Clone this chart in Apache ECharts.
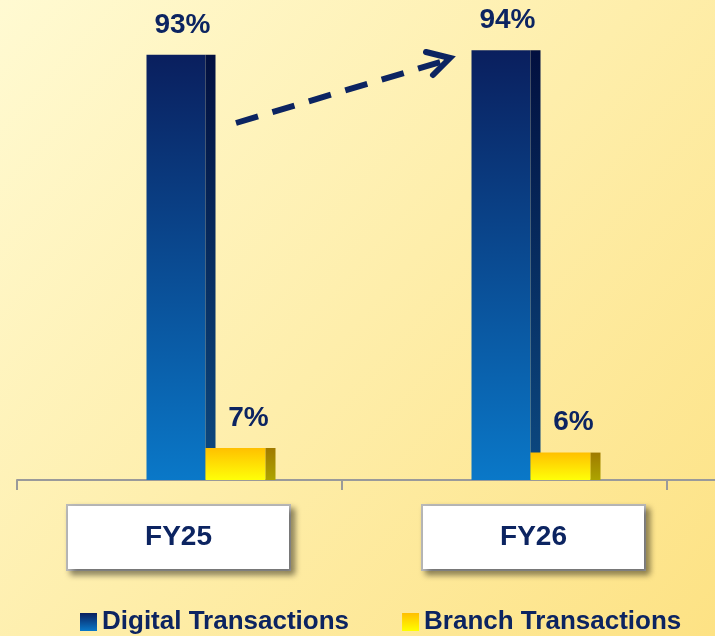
<!DOCTYPE html>
<html>
<head>
<meta charset="utf-8">
<script src="https://cdn.jsdelivr.net/npm/echarts@6/dist/echarts.min.js"></script>
<style>
  html, body { margin: 0; padding: 0; }
  #mainContent { width: 715px; height: 636px; }
</style>
</head>
<body>
<div id="mainContent"></div>
<script>
// data
var categories = ['FY25', 'FY26', ''];
var boxLabels = ['FY25', 'FY26'];
var digital = [93, 94];
var branch = [7, 6];
var seriesNames = ['Digital Transactions', 'Branch Transactions'];

var navy = '#0c2461';

var myChart = echarts.init(document.getElementById('mainContent'));

function grad(top, bottom) {
    return new echarts.graphic.LinearGradient(0, 0, 0, 1, [
        { offset: 0, color: top },
        { offset: 1, color: bottom }
    ]);
}

// front face offset / width, side face width, label offset (relative to category centre)
function barRenderer(frontX, frontW, sideW, labelX, frontCol, sideCol) {
    return function (params, api) {
        var top = api.coord([api.value(0), api.value(1)]);
        var base = api.coord([api.value(0), 0]);
        var cx = top[0];
        var h = base[1] - top[1];
        return {
            type: 'group',
            children: [{
                type: 'rect',
                shape: { x: cx + frontX, y: top[1], width: frontW, height: h },
                style: { fill: grad(frontCol[0], frontCol[1]) }
            }, {
                type: 'rect',
                shape: { x: cx + frontX + frontW, y: top[1], width: sideW, height: h },
                style: { fill: grad(sideCol[0], sideCol[1]) }
            }, {
                type: 'text',
                style: {
                    text: api.value(1) + '%',
                    x: cx + labelX,
                    y: top[1] - 30,
                    font: 'bold 28px "Liberation Sans", Arial, sans-serif',
                    fill: navy,
                    align: 'center',
                    verticalAlign: 'middle'
                }
            }]
        };
    };
}

var option = {
    backgroundColor: new echarts.graphic.LinearGradient(0, 0, 1, 1, [
        { offset: 0, color: '#fffad2' },
        { offset: 1, color: '#fde284' }
    ]),
    animation: false,
    grid: [
        { left: 17, top: 0, width: 975, height: 480, outerBoundsMode: 'none', containLabel: false },
        { left: 1, top: 0, width: 710, height: 480, outerBoundsMode: 'none', containLabel: false }
    ],
    legend: {
        left: 75,
        top: 604,
        width: 640,
        icon: 'rect',
        itemWidth: 17,
        itemHeight: 18,
        itemGap: 53,
        textStyle: {
            color: navy,
            fontSize: 26,
            fontWeight: 'bold',
            fontFamily: '"Liberation Sans", Arial, sans-serif'
        },
        data: seriesNames
    },
    xAxis: [{
        type: 'category',
        gridIndex: 0,
        data: categories,
        axisLine: { lineStyle: { color: '#9a9a9a', width: 2 } },
        axisTick: { show: true, length: 10, lineStyle: { color: '#9a9a9a', width: 2 } },
        axisLabel: { show: false },
        splitLine: { show: false }
    }, {
        type: 'category',
        gridIndex: 1,
        data: boxLabels,
        axisLine: { show: false },
        axisTick: { show: false },
        splitLine: { show: false },
        axisLabel: {
            margin: 26,
            color: navy,
            fontSize: 28,
            fontWeight: 'bold',
            fontFamily: '"Liberation Sans", Arial, sans-serif',
            backgroundColor: '#ffffff',
            borderColor: '#b9b9b9',
            borderWidth: 2,
            width: 221,
            height: 63,
            lineHeight: 63,
            align: 'center',
            shadowColor: 'rgba(0,0,0,0.4)',
            shadowBlur: 6,
            shadowOffsetX: 4,
            shadowOffsetY: 4
        }
    }],
    yAxis: [
        { type: 'value', gridIndex: 0, min: 0, max: 105, show: false },
        { type: 'value', gridIndex: 1, min: 0, max: 105, show: false }
    ],
    graphic: [{
        type: 'line',
        shape: { x1: 236, y1: 123, x2: 444, y2: 61 },
        style: { stroke: navy, lineWidth: 6, lineDash: [23, 15] }
    }, {
        type: 'polyline',
        shape: { points: [[426, 52], [450, 58], [433, 75]] },
        style: { stroke: navy, lineWidth: 6, fill: null, lineCap: 'round', lineJoin: 'miter' }
    }],
    series: [{
        name: seriesNames[0],
        type: 'custom',
        xAxisIndex: 0,
        yAxisIndex: 0,
        itemStyle: { color: grad('#0a1f5e', '#0a78c8') },
        renderItem: barRenderer(-33, 59, 10, 3,
            ['#0a1f5e', '#0a78c8'], ['#02103f', '#0c4a82']),
        data: digital.map(function (v, i) { return [i, v]; })
    }, {
        name: seriesNames[1],
        type: 'custom',
        xAxisIndex: 0,
        yAxisIndex: 0,
        itemStyle: { color: grad('#ffbf00', '#ffff00') },
        renderItem: barRenderer(26, 60, 10, 69,
            ['#ffc000', '#ffff08'], ['#a07a00', '#aca400']),
        data: branch.map(function (v, i) { return [i, v]; })
    }]
};

myChart.setOption(option);
</script>
</body>
</html>
